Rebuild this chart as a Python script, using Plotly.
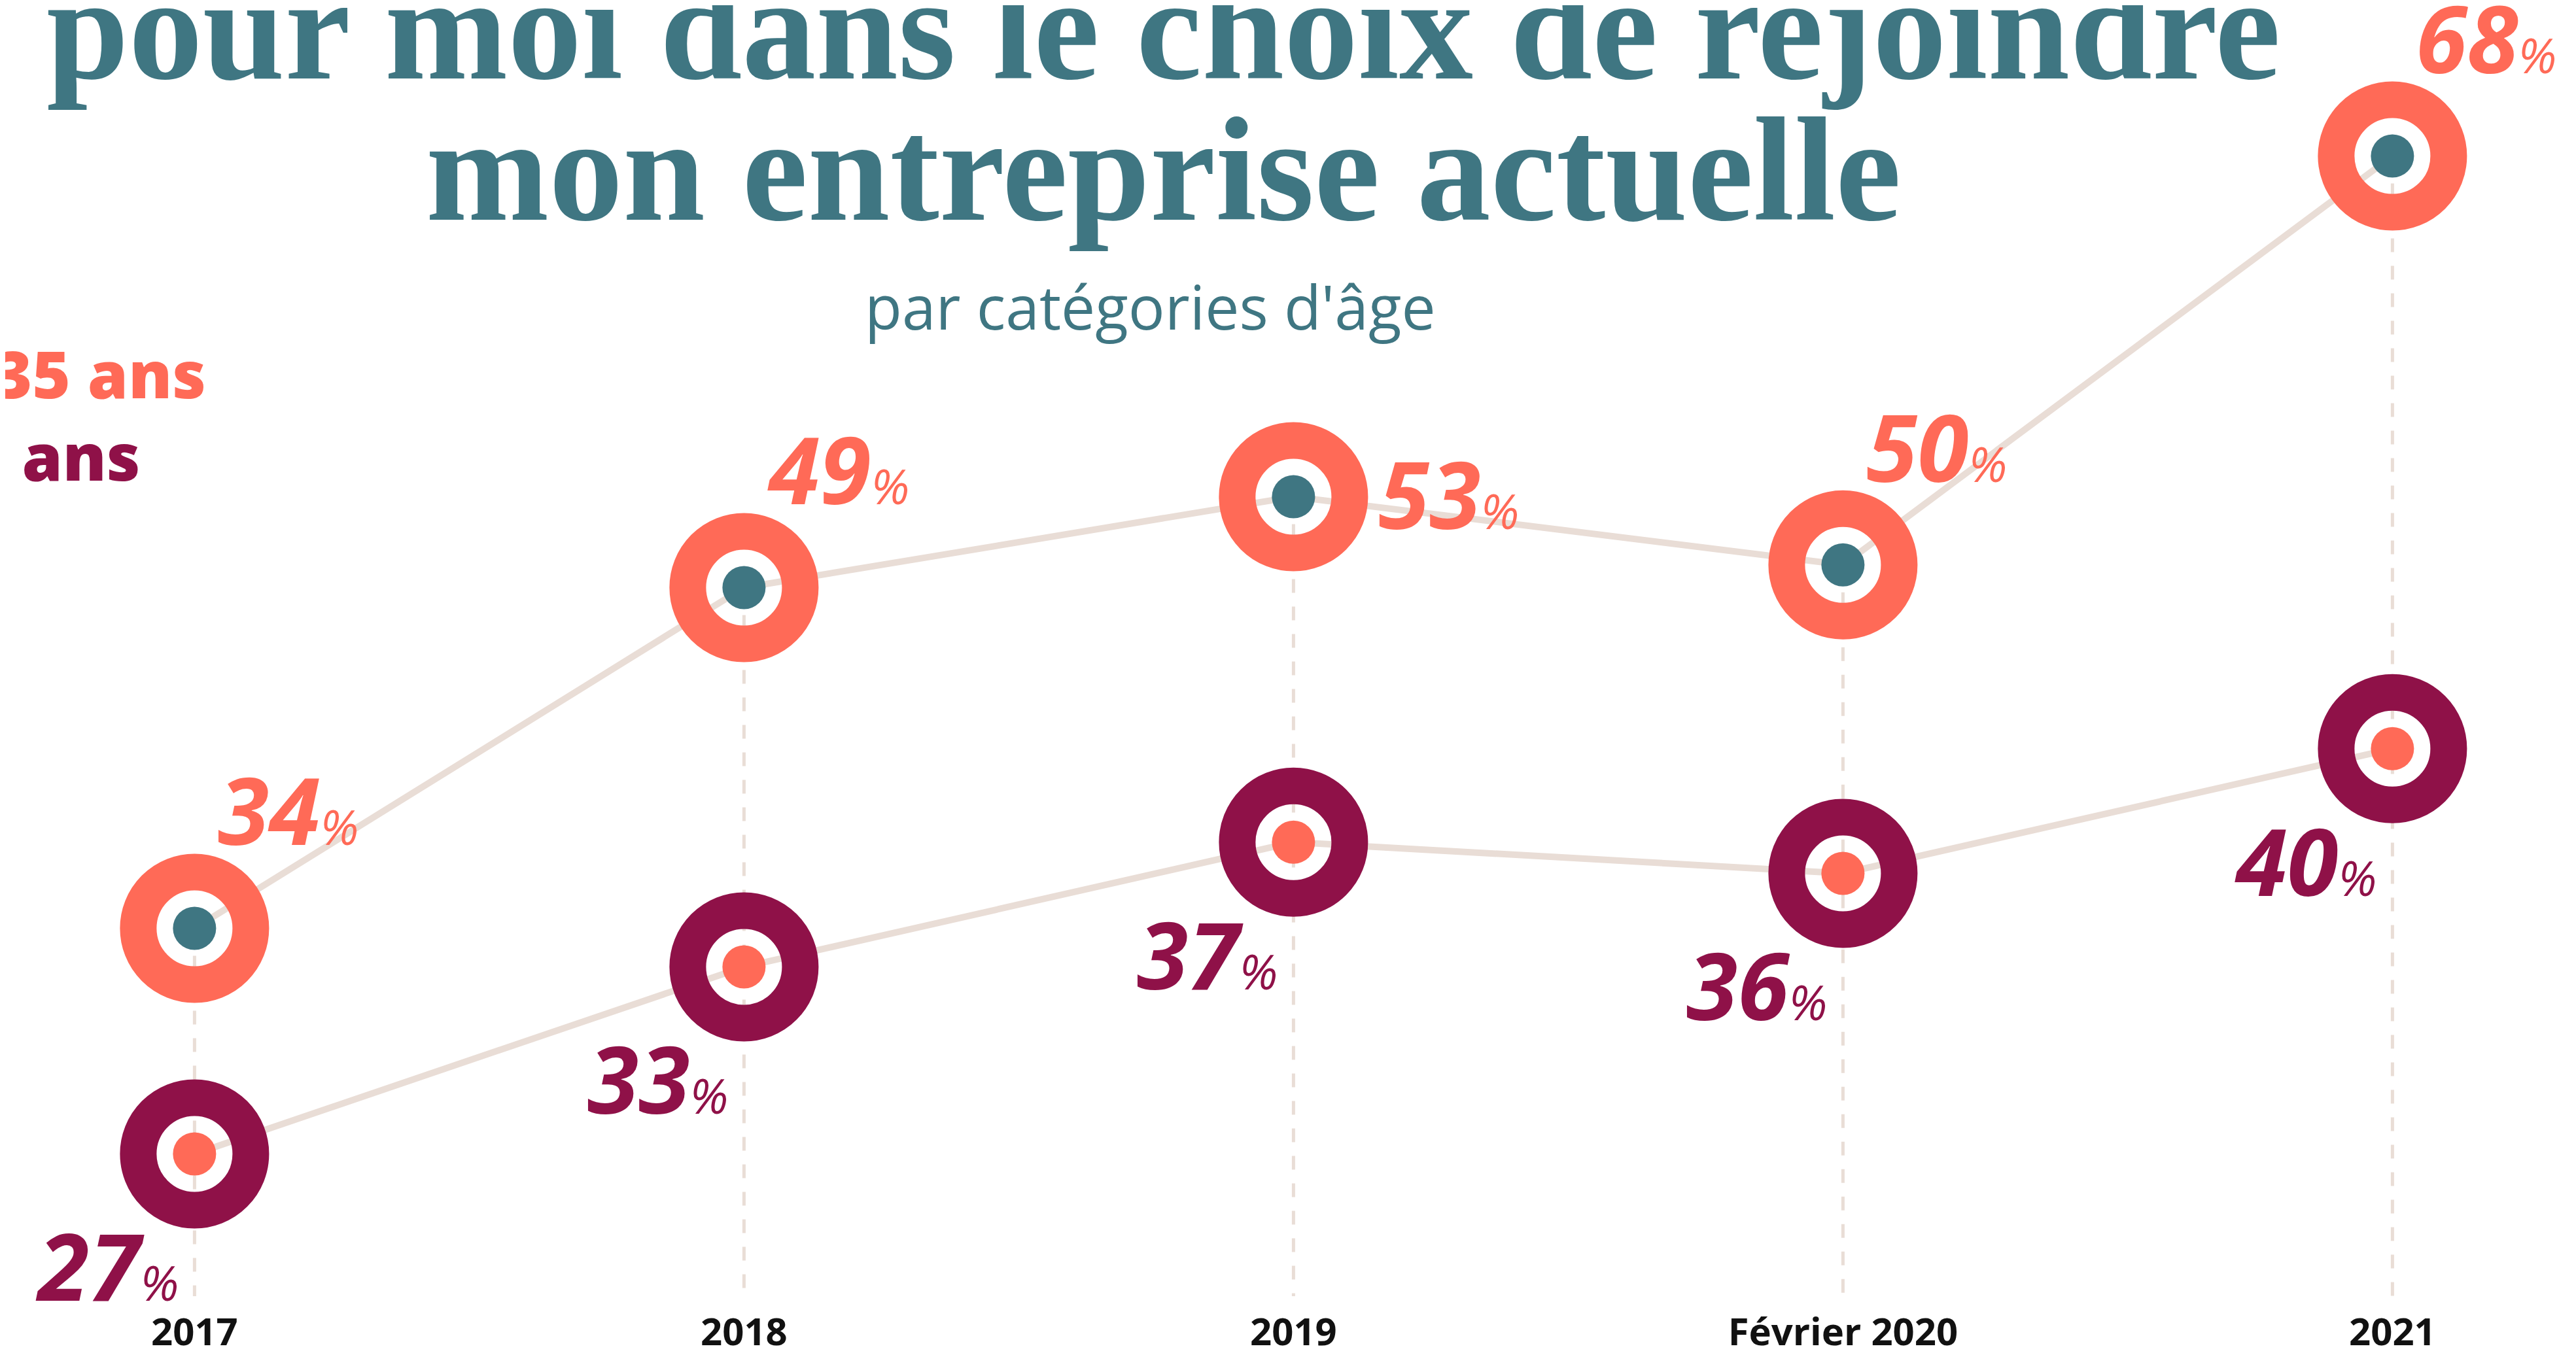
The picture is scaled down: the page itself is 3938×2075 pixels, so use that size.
import plotly.graph_objects as go

# ---------------------------------------------------------------------------
# Couleurs
# ---------------------------------------------------------------------------
TEAL = "#3F7682"
CORAL = "#FF6A57"
MAROON = "#8F1148"
BEIGE = "#E9DDD6"
BLACK = "#111111"

SERIF = "'Liberation Serif', 'DejaVu Serif', serif"
SANS = "'Open Sans', 'Noto Sans', sans-serif"

# ---------------------------------------------------------------------------
# Données
# ---------------------------------------------------------------------------
periodes = ["2017", "2018", "2019", "Février 2020", "2021"]
moins_35 = [34, 49, 53, 50, 68]
plus_35 = [27, 33, 37, 36, 40]

titre_l1 = "pour moi dans le choix de rejoindre"
titre_l2 = "mon entreprise actuelle"
sous_titre = "par catégories d'âge"
legende_jeunes = "Moins de 35 ans"
legende_seniors = "Plus de 35 ans"

W, H = 3938, 2075
BOTTOM = 85
X_RANGE = [-0.3445, 4.3436]
Y_RANGE = [17.34, 74.64]      # axe des moins de 35 ans
Y2_RANGE = [22.10, 63.85]     # axe des plus de 35 ans
Y_FLOOR = 17.8                # bas des pointillés

RING_SIZE, RING_W, DOT_SIZE = 172, 56, 66


def px_y(py):
    """Pixel (depuis le haut) -> coordonnée paper."""
    return 1 - py / (H - BOTTOM)


fig = go.Figure()

# lignes de liaison
for vals, axis in [(moins_35, "y"), (plus_35, "y2")]:
    fig.add_trace(go.Scatter(
        x=periodes, y=vals, yaxis=axis, mode="lines",
        line=dict(color=BEIGE, width=10), hoverinfo="skip", showlegend=False,
    ))

# anneaux + points
for vals, axis, ring, dot in [(moins_35, "y", CORAL, TEAL), (plus_35, "y2", MAROON, CORAL)]:
    fig.add_trace(go.Scatter(
        x=periodes, y=vals, yaxis=axis, mode="markers",
        marker=dict(symbol="circle-open", size=RING_SIZE, color=ring,
                    line=dict(width=RING_W, color=ring)),
        hoverinfo="skip", showlegend=False,
    ))
    fig.add_trace(go.Scatter(
        x=periodes, y=vals, yaxis=axis, mode="markers",
        marker=dict(symbol="circle", size=DOT_SIZE, color=dot, line=dict(width=0)),
        showlegend=False,
    ))

# pointillés verticaux (indices de catégorie : "2017" serait lu comme un nombre)
for i, v in enumerate(moins_35):
    fig.add_shape(type="line", xref="x", yref="y", x0=i, x1=i, y0=v, y1=Y_FLOOR,
                  line=dict(color=BEIGE, width=5, dash="21px,21px"), layer="below")


def label(v):
    return (f"<b><i>{v}</i></b>"
            f"<span style='font-size:74px;font-weight:400'><i>%</i></span>")


# étiquettes de valeurs
for i, v in enumerate(moins_35):
    right = i == 2
    fig.add_annotation(
        x=i, y=v, xref="x", yref="y", text=label(v), showarrow=False,
        xanchor="left", yanchor="middle",
        xshift=128 if right else 34, yshift=6 if right else 182,
        font=dict(family=SANS, size=142, color=CORAL, weight=800),
    )
for i, v in enumerate(plus_35):
    fig.add_annotation(
        x=i, y=v, xref="x", yref="y2", text=label(v), showarrow=False,
        xanchor="right", yanchor="middle", xshift=-22, yshift=-170,
        font=dict(family=SANS, size=142, color=MAROON, weight=800),
    )

# titre, sous-titre, légende
fig.add_annotation(x=1770 / W, y=px_y(36), xref="paper", yref="paper", text=titre_l1,
                   showarrow=False, xanchor="center", yanchor="middle",
                   font=dict(family=SERIF, size=226, color=TEAL, weight="bold"))
fig.add_annotation(x=1770 / W, y=px_y(252), xref="paper", yref="paper", text=titre_l2,
                   showarrow=False, xanchor="center", yanchor="middle",
                   font=dict(family=SERIF, size=226, color=TEAL, weight="bold"))
fig.add_annotation(x=1750 / W, y=px_y(460), xref="paper", yref="paper", text=sous_titre,
                   showarrow=False, xanchor="center", yanchor="middle",
                   font=dict(family=SANS, size=93, color=TEAL))
fig.add_annotation(x=309 / W, y=px_y(562), xref="paper", yref="paper",
                   text=legende_jeunes, showarrow=False,
                   xanchor="right", yanchor="middle",
                   font=dict(family=SANS, size=100, color=CORAL, weight=800))
fig.add_annotation(x=208 / W, y=px_y(688), xref="paper", yref="paper",
                   text=legende_seniors, showarrow=False,
                   xanchor="right", yanchor="middle",
                   font=dict(family=SANS, size=100, color=MAROON, weight=800))

fig.update_layout(
    width=W, height=H,
    margin=dict(l=0, r=0, t=0, b=BOTTOM),
    plot_bgcolor="white", paper_bgcolor="white",
    showlegend=False,
    xaxis=dict(type="category", range=X_RANGE, showgrid=False, zeroline=False,
               showline=False, ticks="", ticklabelstandoff=0,
               tickfont=dict(family=SANS, size=58, color=BLACK, weight="bold")),
    yaxis=dict(range=Y_RANGE, visible=False, showgrid=False, zeroline=False),
    yaxis2=dict(range=Y2_RANGE, visible=False, overlaying="y", showgrid=False,
                zeroline=False),
)

fig.write_html("out.html")
